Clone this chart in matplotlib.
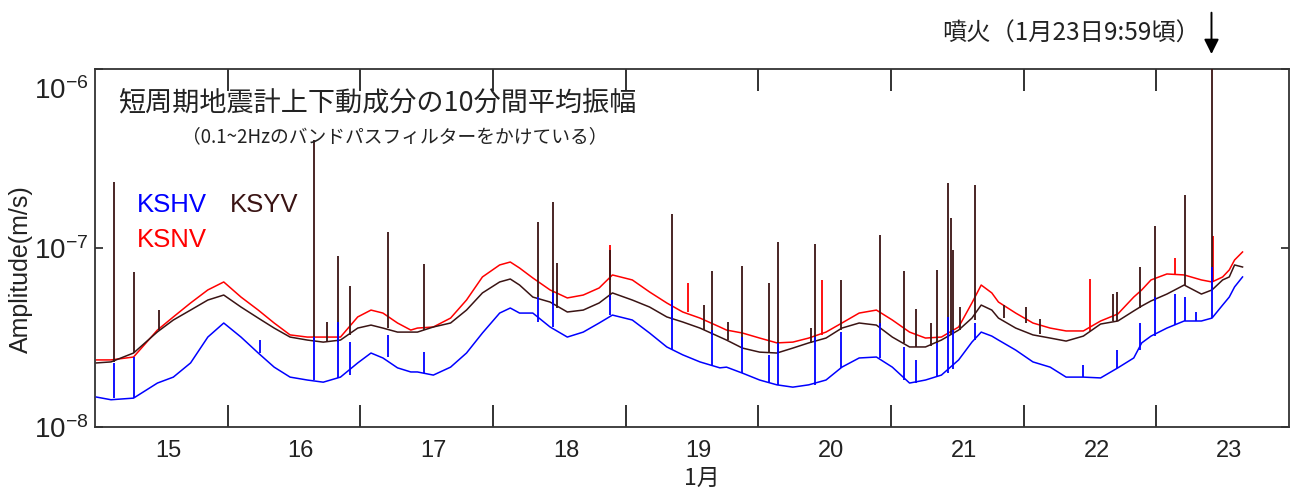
import numpy as np
import matplotlib
matplotlib.use("Agg")
import matplotlib.pyplot as plt
import matplotlib.transforms as mtransforms
from matplotlib.ticker import FixedLocator, NullLocator, FixedFormatter

plt.rcParams['font.family'] = ['Liberation Sans', 'Noto Sans CJK JP', 'DejaVu Sans']
plt.rcParams['mathtext.fontset'] = 'custom'
plt.rcParams['mathtext.rm'] = 'Liberation Sans'
plt.rcParams['mathtext.default'] = 'regular'

# ---------------- data (time in days of January, amplitude in 1e-8 m/s) -------------
days = [15.01, 15.12, 15.29, 15.47, 15.59, 15.72, 15.85, 15.97, 16.10, 16.23,
        16.35, 16.47, 16.60, 16.72, 16.85, 16.98, 17.08, 17.17, 17.28, 17.38,
        17.43, 17.55, 17.68, 17.80, 17.92, 18.05, 18.13, 18.20, 18.30, 18.43,
        18.56, 18.68, 18.80, 18.90, 19.05, 19.18, 19.31, 19.43, 19.56, 19.71,
        19.76, 19.88, 20.01, 20.14, 20.26, 20.38, 20.51, 20.63, 20.76, 20.89,
        21.01, 21.14, 21.26, 21.38, 21.51, 21.61, 21.68, 21.76,
        21.81, 21.94, 22.07, 22.20, 22.32, 22.45, 22.58, 22.71, 22.83, 22.89,
        22.96, 23.08, 23.21, 23.34, 23.42, 23.50, 23.55, 23.59, 23.65]

kshv = [1.47, 1.42, 1.45, 1.76, 1.90, 2.28, 3.18, 3.81, 3.18, 2.59,
        2.16, 1.90, 1.83, 1.78, 1.90, 2.28, 2.59, 2.43, 2.14, 2.03,
        2.03, 1.95, 2.16, 2.59, 3.35, 4.33, 4.62, 4.33, 4.33, 3.62,
        3.18, 3.39, 3.81, 4.22, 3.96, 3.35, 2.80, 2.53, 2.31, 2.14,
        2.16, 2.00, 1.83, 1.72, 1.67, 1.72, 1.83, 2.16, 2.43, 2.46,
        2.16, 1.76, 1.83, 1.95, 2.37, 2.98, 3.39, 3.22,
        3.06, 2.69, 2.31, 2.16, 1.90, 1.90, 1.88, 2.14, 2.43, 2.95,
        3.22, 3.57, 3.91, 3.91, 4.06, 4.80, 5.32, 6.06, 6.89]

ksnv = [2.37, 2.37, 2.46, 3.48, 4.12, 4.93, 5.83, 6.46, 5.32, 4.50,
        3.81, 3.27, 3.18, 3.18, 3.18, 4.12, 4.50, 4.33, 3.81, 3.48,
        3.57, 3.62, 4.06, 5.12, 6.89, 8.04, 8.35, 7.73, 6.80, 5.83,
        5.26, 5.46, 5.98, 7.07, 6.63, 5.68, 4.93, 4.39, 4.06, 3.62,
        3.48, 3.35, 3.14, 2.95, 2.98, 3.14, 3.39, 3.81, 4.33, 4.50,
        3.96, 3.39, 3.14, 3.18, 3.62, 4.93, 6.21, 5.61,
        4.99, 4.33, 3.81, 3.57, 3.44, 3.44, 3.91, 4.28, 5.32, 5.83,
        6.63, 7.16, 7.07, 6.63, 6.46, 6.89, 7.54, 8.57, 9.50]

ksyv = [2.28, 2.31, 2.59, 3.40, 3.96, 4.50, 5.12, 5.46, 4.68, 4.06,
        3.57, 3.18, 3.06, 2.98, 3.06, 3.57, 3.71, 3.57, 3.39, 3.39,
        3.39, 3.62, 3.81, 4.50, 5.61, 6.46, 6.71, 6.21, 5.32, 4.99,
        4.39, 4.50, 4.93, 5.61, 5.12, 4.68, 4.12, 3.86, 3.57, 3.18,
        3.06, 2.76, 2.62, 2.59, 2.76, 2.95, 3.14, 3.57, 3.81, 3.71,
        3.18, 2.80, 2.80, 3.06, 3.48, 4.06, 4.80, 4.50,
        4.06, 3.57, 3.27, 3.14, 3.02, 3.22, 3.76, 3.91, 4.45, 4.74,
        5.06, 5.53, 6.21, 5.53, 5.83, 6.63, 6.89, 8.04, 7.83]

# short events (spikes): time, peak, level at the foot
ksyv_spike_day = [15.14, 15.29, 15.48, 16.65, 16.75, 16.83, 16.92, 17.21, 17.48, 18.34,
                  18.45, 18.48, 18.88, 19.35, 19.59, 19.65, 19.77, 19.88, 20.08, 20.15,
                  20.40, 20.43, 20.62, 20.92, 21.10, 21.19, 21.30, 21.35, 21.43, 21.45,
                  21.47, 21.52, 21.63, 21.85, 22.02, 22.12, 22.67, 22.70, 22.88, 22.99,
                  23.22, 23.42]
ksyv_spike_top = [23.4, 7.34, 4.50, 40.1, 3.86, 9.02, 6.13, 12.3, 8.14, 14.0,
                  18.1, 8.25, 9.75, 15.5, 4.80, 7.44, 3.86, 7.93, 6.38, 10.8,
                  3.57, 10.5, 6.63, 11.8, 7.44, 4.56, 3.81, 7.54, 23.1, 14.7,
                  9.75, 4.68, 22.5, 4.80, 4.68, 4.00, 5.53, 5.70, 7.83, 13.3,
                  19.8, 100.0]
ksyv_spike_foot = [2.31, 2.59, 3.48, 3.06, 2.98, 3.00, 3.27, 3.57, 3.48, 5.32,
                   4.80, 4.60, 5.12, 3.96, 3.50, 3.27, 3.06, 2.76, 2.59, 2.59,
                   2.95, 2.98, 3.48, 3.67, 2.95, 2.80, 2.85, 2.95, 3.30, 3.30,
                   3.40, 3.48, 3.96, 4.06, 3.80, 3.30, 3.90, 3.90, 4.60, 5.06,
                   6.20, 5.83]

kshv_spike_day = [15.14, 15.29, 16.24, 16.65, 16.83, 16.92, 17.21, 17.48, 18.34, 18.45,
                  18.88, 19.35, 19.65, 19.88, 20.08, 20.15, 20.43, 20.62, 20.92, 21.10,
                  21.19, 21.35, 21.43, 21.47, 21.63, 22.45, 22.70, 22.88, 22.99, 23.14,
                  23.22, 23.30, 23.42]
kshv_spike_top = [2.28, 2.46, 3.06, 3.18, 3.86, 2.98, 3.27, 2.62, 5.32, 5.61,
                  5.46, 5.12, 3.48, 3.18, 2.53, 2.95, 3.18, 3.39, 3.81, 2.80,
                  2.37, 2.95, 4.12, 3.50, 3.81, 2.22, 2.69, 3.81, 5.32, 5.53,
                  5.32, 4.39, 7.83]
kshv_spike_foot = [1.45, 1.45, 2.59, 1.83, 1.87, 1.95, 2.46, 2.00, 3.86, 3.60,
                   4.22, 2.69, 2.22, 2.00, 1.76, 1.72, 1.72, 2.14, 2.43, 1.83,
                   1.76, 1.90, 2.00, 2.10, 3.06, 1.90, 2.14, 2.69, 3.22, 3.70,
                   3.91, 3.91, 4.06]

ksnv_spike_day = [18.88, 19.47, 20.48, 22.50, 23.14, 23.43]
ksnv_spike_top = [10.4, 6.38, 6.63, 6.71, 8.78, 11.7]
ksnv_spike_foot = [6.60, 4.39, 3.27, 3.44, 7.07, 6.46]

day_labels = ['15', '16', '17', '18', '19', '20', '21', '22', '23']
eruption_day = 23.416
UNIT = 1e-8

# ---------------- figure ----------------
C_HV = '#0000ff'
C_NV = '#ff0000'
C_YV = '#3a1414'
C_TXT = '#222222'

fig = plt.figure(figsize=(12.97, 4.92), dpi=100)
ax = fig.add_axes([0.0733, 0.1321, 0.9205, 0.7277])

d = np.array(days)
ax.plot(d, np.array(ksnv) * UNIT, color=C_NV, lw=1.1, zorder=2)
ax.vlines(ksnv_spike_day, np.array(ksnv_spike_foot) * UNIT, np.array(ksnv_spike_top) * UNIT,
          color=C_NV, lw=1.3, zorder=2)
ax.plot(d, np.array(ksyv) * UNIT, color=C_YV, lw=1.1, zorder=3)
ax.vlines(ksyv_spike_day, np.array(ksyv_spike_foot) * UNIT, np.array(ksyv_spike_top) * UNIT,
          color=C_YV, lw=1.3, zorder=3)
ax.plot(d, np.array(kshv) * UNIT, color=C_HV, lw=1.1, zorder=4)
ax.vlines(kshv_spike_day, np.array(kshv_spike_foot) * UNIT, np.array(kshv_spike_top) * UNIT,
          color=C_HV, lw=1.3, zorder=4)

ax.set_yscale('log')
ax.set_ylim(1e-8, 1e-6)
ax.set_xlim(15.0, 24.0)

# y ticks
ax.yaxis.set_major_locator(FixedLocator([1e-8, 1e-7, 1e-6]))
ax.yaxis.set_major_formatter(FixedFormatter([r'$10^{-8}$', r'$10^{-7}$', r'$10^{-6}$']))
ax.yaxis.set_minor_locator(NullLocator())
ax.tick_params(axis='y', which='major', direction='in', length=6, width=1.2,
               labelsize=20, right=True, pad=5, colors=C_TXT)

# x ticks: major at day boundaries (no label), minor at day middles (labels)
ax.xaxis.set_major_locator(FixedLocator(np.arange(16, 24)))
ax.xaxis.set_major_formatter(FixedFormatter([''] * 8))
ax.xaxis.set_minor_locator(FixedLocator(np.arange(15, 24) + 0.55))
ax.xaxis.set_minor_formatter(FixedFormatter(day_labels))
ax.tick_params(axis='x', which='major', direction='in', length=16, width=1.3,
               top=True, colors=C_TXT)
ax.tick_params(axis='x', which='minor', length=0, labelsize=17, pad=9, colors=C_TXT)

for s in ax.spines.values():
    s.set_linewidth(1.3)
    s.set_color('#333333')

ax.set_ylabel('Amplitude(m/s)', fontsize=18, color=C_TXT)
ax.yaxis.set_label_coords(-0.052, 0.44)
ax.set_xlabel('1月', fontsize=16.5, family=['Noto Sans CJK JP'], color=C_TXT, va='top')
ax.xaxis.set_label_coords(0.508, -0.112)

# top y label sits a little lower, inside the figure
fig.canvas.draw()
top_tick = ax.yaxis.get_major_ticks()[2]
top_tick.label1.set_transform(top_tick.label1.get_transform() +
                              mtransforms.ScaledTranslation(0, -14 / 72, fig.dpi_scale_trans))

# texts
fig.text(0.091, 0.791, '短周期地震計上下動成分の10分間平均振幅', fontsize=19.5,
         family=['Noto Sans CJK JP'], va='center', ha='left', color=C_TXT)
fig.text(0.140, 0.722, '（0.1~2Hzのバンドパスフィルターをかけている）', fontsize=13.5,
         family=['Noto Sans CJK JP'], va='center', ha='left', color=C_TXT)
fig.text(0.1056, 0.583, 'KSHV', fontsize=18.5, color=C_HV, va='center', ha='left')
fig.text(0.1773, 0.583, 'KSYV', fontsize=18.5, color=C_YV, va='center', ha='left')
fig.text(0.1056, 0.512, 'KSNV', fontsize=18.5, color=C_NV, va='center', ha='left')

fig.text(0.925, 0.931, '噴火（1月23日9:59頃）', fontsize=17.5,
         family=['Noto Sans CJK JP'], va='center', ha='right', color=C_TXT)
ax.annotate('', xy=(eruption_day, 1.034), xycoords=('data', 'axes fraction'),
            xytext=(eruption_day, 1.165), textcoords=('data', 'axes fraction'),
            arrowprops=dict(arrowstyle='-|>', color='black', lw=1.4, mutation_scale=22),
            annotation_clip=False)

fig.savefig('out.png', dpi=100)
